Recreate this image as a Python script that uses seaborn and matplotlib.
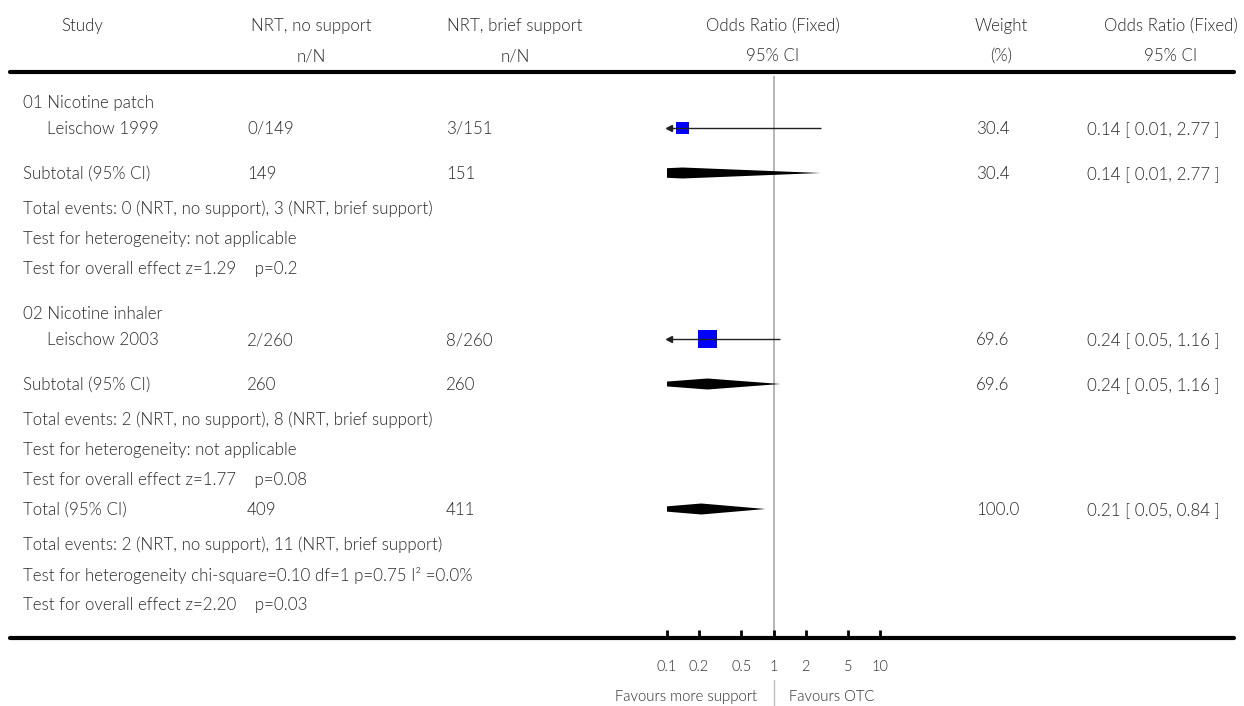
import matplotlib
matplotlib.use("Agg")
import matplotlib.pyplot as plt
import seaborn as sns
import numpy as np
import pandas as pd

# ---- data ----
studies = ["Leischow 1999", "Leischow 2003"]
groups = ["01 Nicotine patch", "02 Nicotine inhaler"]
events_nos = [0, 2]
total_nos = [149, 260]
events_brief = [3, 8]
total_brief = [151, 260]
odds = [0.14, 0.24]
ci_lo = [0.01, 0.05]
ci_hi = [2.77, 1.16]
weights = [30.4, 69.6]

sub_odds = [0.14, 0.24]
sub_lo = [0.01, 0.05]
sub_hi = [2.77, 1.16]
sub_weights = [30.4, 69.6]
sub_z = ["1.29", "1.77"]
sub_p = ["0.2", "0.08"]

tot_odds = 0.21
tot_lo = 0.05
tot_hi = 0.84
tot_events = [2, 11]
tot_n = [409, 411]
tot_het = "Test for heterogeneity chi-square=0.10 df=1 p=0.75 I² =0.0%"
tot_effect = "Test for overall effect z=2.20    p=0.03"

xticks = [0.1, 0.2, 0.5, 1, 2, 5, 10]
xtick_labels = ["0.1", "0.2", "0.5", "1", "2", "5", "10"]

# ---- layout (pixel rows) ----
W, H = 1244, 706
row_group = [103, 314]
row_study = [129, 340]
row_sub = [174, 385]
row_subev = [209, 420]
row_subhet = [239, 450]
row_subeff = [269, 480]
row_tot = 510
row_totev = 545
row_tothet = 575
row_toteff = 605
top_line = 72
bot_line = 638

x_study, x_indent = 23, 47
x_nos, x_brief = 247, 446
x_w, x_ci = 976, 1087
txt = "#2a2a2a"

sns.set_theme(style="white")
plt.rcParams["font.family"] = ["Lato", "DejaVu Sans"]
fs = 12.2
fw = 300

fig = plt.figure(figsize=(W / 100, H / 100), dpi=100)
bg = fig.add_axes([0, 0, 1, 1])
bg.set_xlim(0, W)
bg.set_ylim(H, 0)
bg.axis("off")

fa = fig.add_axes([667 / W, (H - bot_line) / H, (880 - 667) / W, (bot_line - top_line - 4) / H])
fa.set_xscale("log")
fa.set_xlim(xticks[0], xticks[-1])
fa.set_ylim(bot_line, top_line + 4)
fa.patch.set_alpha(0)
for s in fa.spines.values():
    s.set_visible(False)
fa.set_yticks([])
fa.set_xticks(xticks)
fa.set_xticklabels(xtick_labels, fontsize=10.5, color=txt, fontweight=fw)
fa.minorticks_off()
fa.tick_params(axis="x", direction="in", length=6, width=2, color="black", pad=16, bottom=True)

# header
def t(x, y, s, ha="left", size=fs, **kw):
    bg.text(x, y, s, ha=ha, va="center", fontsize=size, color=txt, fontweight=fw, **kw)

t(82, 26, "Study", ha="center")
t(311, 26, "NRT, no support", ha="center")
t(311, 56, "n/N", ha="center")
t(515, 26, "NRT, brief support", ha="center")
t(515, 56, "n/N", ha="center")
t(773, 26, "Odds Ratio (Fixed)", ha="center")
t(773, 56, "95% CI", ha="center")
t(1001, 26, "Weight", ha="center")
t(1001, 56, "(%)", ha="center")
t(1171, 26, "Odds Ratio (Fixed)", ha="center")
t(1171, 56, "95% CI", ha="center")

bg.plot([10, W - 10], [top_line, top_line], color="black", lw=3)
bg.plot([10, W - 10], [bot_line, bot_line], color="black", lw=3)

# reference line at OR = 1
fa.axvline(1, color="#b0b0b0", lw=1.3, zorder=0)
fa.axvline(1, ymin=-0.125, ymax=-0.075, color="#c0c0c0", lw=1, clip_on=False)

diam_h = 5.5
for i in range(len(studies)):
    t(x_study, row_group[i], groups[i])
    t(x_indent, row_study[i], studies[i])
    t(x_nos, row_study[i], f"{events_nos[i]}/{total_nos[i]}")
    t(x_brief, row_study[i], f"{events_brief[i]}/{total_brief[i]}")
    t(x_w, row_study[i], f"{weights[i]:.1f}")
    t(x_ci, row_study[i], f"{odds[i]:.2f} [ {ci_lo[i]:.2f}, {ci_hi[i]:.2f} ]")

    # CI line + arrow
    fa.hlines(row_study[i] - 1, ci_lo[i], ci_hi[i], color="#222222", lw=1, zorder=4)
    if ci_lo[i] < xticks[0]:
        fa.plot(xticks[0] * 1.04, row_study[i] - 1, marker="<", ms=4, color="#222222", clip_on=False)

    t(x_study, row_sub[i], "Subtotal (95% CI)")
    t(x_nos, row_sub[i], f"{total_nos[i]}")
    t(x_brief, row_sub[i], f"{total_brief[i]}")
    t(x_w, row_sub[i], f"{sub_weights[i]:.1f}")
    t(x_ci, row_sub[i], f"{sub_odds[i]:.2f} [ {sub_lo[i]:.2f}, {sub_hi[i]:.2f} ]")
    fa.fill([sub_lo[i], sub_odds[i], sub_hi[i], sub_odds[i]],
            [row_sub[i] - 1, row_sub[i] - 1 - diam_h, row_sub[i] - 1, row_sub[i] - 1 + diam_h],
            color="black", lw=0)

    t(x_study, row_subev[i], f"Total events: {events_nos[i]} (NRT, no support), {events_brief[i]} (NRT, brief support)")
    t(x_study, row_subhet[i], "Test for heterogeneity: not applicable")
    t(x_study, row_subeff[i], f"Test for overall effect z={sub_z[i]}    p={sub_p[i]}")

# squares scaled by weight
sq = pd.DataFrame({"odds": odds, "row": np.array(row_study) - 1, "w": weights})
sns.scatterplot(data=sq, x="odds", y="row", s=np.array(weights) * 2.6, marker="s",
                color="#0000ff", linewidth=0, ax=fa, zorder=3)
fa.set_xlabel("")
fa.set_ylabel("")
fa.set_ylim(bot_line, top_line + 4)

# total
t(x_study, row_tot, "Total (95% CI)")
t(x_nos, row_tot, f"{tot_n[0]}")
t(x_brief, row_tot, f"{tot_n[1]}")
t(x_w, row_tot, f"{sum(weights):.1f}")
t(x_ci, row_tot, f"{tot_odds:.2f} [ {tot_lo:.2f}, {tot_hi:.2f} ]")
fa.fill([tot_lo, tot_odds, tot_hi, tot_odds],
        [row_tot - 1, row_tot - 1 - diam_h, row_tot - 1, row_tot - 1 + diam_h], color="black", lw=0)
t(x_study, row_totev, f"Total events: {tot_events[0]} (NRT, no support), {tot_events[1]} (NRT, brief support)")
t(x_study, row_tothet, tot_het)
t(x_study, row_toteff, tot_effect)

t(757, 697, "Favours more support", ha="right", size=10.7)
t(789, 697, "Favours OTC", ha="left", size=10.7)

fig.savefig("out.png", dpi=100)
